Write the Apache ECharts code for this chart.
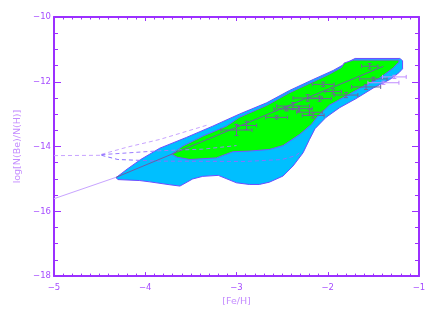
<!DOCTYPE html>
<html><head><meta charset="utf-8">
<script src="https://cdn.jsdelivr.net/npm/echarts@6/dist/echarts.min.js"></script>
<style>html,body{margin:0;padding:0;background:#fff}#c{width:436px;height:312px}</style>
</head><body><div id="c"></div>
<script>
// ---- tick values ----
const xTicks = [-5, -4, -3, -2, -1];
const yTicks = [-18, -16, -14, -12, -10];

// ---- cyan region outline ----
const cyanX = [-4.32,-4.20,-4.05,-3.84,-3.55,-3.26,-2.97,-2.67,-2.42,-2.16,-1.94,-1.75,-1.70,-1.21,-1.18,-1.18,-1.22,-1.32,-1.50,-1.69,-1.87,-2.02,-2.14,-2.20,-2.27,-2.38,-2.49,-2.64,-2.75,-2.86,-3.00,-3.20,-3.37,-3.48,-3.62,-3.73,-3.95,-4.06,-4.30];
const cyanY = [-14.96,-14.70,-14.40,-14.05,-13.72,-13.37,-13.00,-12.65,-12.27,-11.93,-11.65,-11.35,-11.28,-11.28,-11.35,-11.60,-11.72,-11.93,-12.19,-12.52,-12.80,-13.10,-13.45,-13.78,-14.19,-14.60,-14.91,-15.10,-15.17,-15.17,-15.12,-14.89,-14.92,-15.00,-15.22,-15.18,-15.09,-15.05,-15.02];

// ---- green region outline ----
const greenX = [-3.71,-3.59,-3.37,-3.11,-2.97,-2.67,-2.42,-2.16,-2.00,-1.85,-1.82,-1.72,-1.22,-1.22,-1.25,-1.28,-1.43,-1.61,-1.80,-1.98,-2.12,-2.18,-2.31,-2.49,-2.64,-2.86,-3.04,-3.22,-3.51,-3.65];
const greenY = [-14.24,-13.99,-13.68,-13.37,-13.10,-12.73,-12.34,-12.00,-11.79,-11.56,-11.42,-11.33,-11.33,-11.40,-11.47,-11.57,-11.88,-12.14,-12.44,-12.72,-13.10,-13.32,-13.63,-13.97,-14.09,-14.14,-14.16,-14.35,-14.40,-14.33];

// ---- solid model line ----
const solidOutX = [-5.00, -4.32];
const solidOutY = [-15.61, -14.95];
const solidInX = [-4.32, -1.39];
const solidInY = [-14.95, -11.52];

// ---- dashed model lines ----
const dashAX = [-5.00, -4.48];
const dashAY = [-14.28, -14.27];
const dashBX = [-4.48, -4.20, -3.84, -3.30];
const dashBY = [-14.24, -14.02, -13.78, -13.32];
const dashCX = [-4.48, -3.84, -3.37, -3.00];
const dashCY = [-14.25, -14.13, -14.08, -13.97];
const dashDX = [-4.48, -4.30, -3.84, -2.90, -2.50, -2.35, -2.31];
const dashDY = [-14.27, -14.40, -14.45, -14.46, -14.40, -14.28, -14.19];

// ---- observations with error bars ----
const obsX  = [-3.00,-2.89,-2.56,-2.45,-2.38,-2.32,-2.16,-2.20,-2.22,-2.09,-2.05,-1.80,-1.58,-1.50,-1.54,-1.94];
const obsY  = [-13.49,-13.35,-13.10,-12.84,-12.75,-12.83,-13.04,-12.94,-12.50,-12.52,-12.08,-12.41,-12.16,-11.91,-11.52,-12.30];
const obsXE = [0.17,0.11,0.12,0.14,0.18,0.15,0.12,0.14,0.16,0.13,0.12,0.13,0.16,0.15,0.09,0.09];
const obsYE = [0.17,0.13,0.05,0.06,0.11,0.08,0.08,0.08,0.10,0.08,0.07,0.08,0.08,0.05,0.08,0.08];
const obs2X  = [-1.27,-1.39];
const obs2Y  = [-11.85,-12.03];
const obs2XE = [0.13,0.17];
const obs2YE = [0.05,0.05];

const axisColor = '#9b30ff';
const labelColor = '#a64dff';
const nameColor = '#c48cff';
const lightLine = '#c8a4ff';

function zip(xs, ys) { return xs.map((x, i) => [x, ys[i]]); }

function polySeries(xs, ys, fill, stroke, z) {
  return {
    type: 'custom', coordinateSystem: 'cartesian2d', z: z, silent: true,
    data: zip(xs, ys), encode: {x: 0, y: 1},
    renderItem: function (params, api) {
      if (params.dataIndex !== 0) return null;
      const pts = xs.map((x, i) => api.coord([x, ys[i]]));
      return {type: 'polygon', shape: {points: pts}, style: {fill: fill, stroke: stroke, lineWidth: 1}};
    }
  };
}

function lineSeries(xs, ys, color, dashed, z, width) {
  return {
    type: 'line', data: zip(xs, ys), symbol: 'none', z: z, silent: true,
    lineStyle: {color: color, width: width || 1, type: dashed ? [4, 3] : 'solid'}
  };
}

function errSeries(xs, ys, xe, ye, color, z) {
  return {
    type: 'custom', coordinateSystem: 'cartesian2d', z: z, silent: true,
    data: xs.map((x, i) => [x, ys[i], xe[i], ye[i]]), encode: {x: 0, y: 1},
    renderItem: function (params, api) {
      const x = api.value(0), y = api.value(1), dx = api.value(2), dy = api.value(3);
      const l = api.coord([x - dx, y]), r = api.coord([x + dx, y]);
      const t = api.coord([x, y + dy]), b = api.coord([x, y - dy]);
      const c = 2;
      const st = {stroke: color, lineWidth: 1};
      const ln = (x1, y1, x2, y2) => ({type: 'line', shape: {x1, y1, x2, y2}, style: st});
      return {type: 'group', children: [
        ln(l[0], l[1], r[0], r[1]),
        ln(l[0], l[1] - c, l[0], l[1] + c),
        ln(r[0], r[1] - c, r[0], r[1] + c),
        ln(t[0], t[1], b[0], b[1]),
        ln(t[0] - c, t[1], t[0] + c, t[1]),
        ln(b[0] - c, b[1], b[0] + c, b[1])
      ]};
    }
  };
}

const fmt = v => (v < 0 ? '\u2212' + Math.abs(v) : String(v));
const font = 'DejaVu Sans';

function xAx(pos, show) {
  return {
    type: 'value', position: pos, min: xTicks[0], max: xTicks[xTicks.length - 1], interval: 1,
    axisLine: {show: true, onZero: false, lineStyle: {color: axisColor, width: 2}},
    axisTick: {show: true, inside: true, length: 4, lineStyle: {color: axisColor, width: 1}},
    minorTick: {show: true, splitNumber: 10, length: 2.5, lineStyle: {color: axisColor, width: 1}},
    splitLine: {show: false},
    axisLabel: {show: show, color: labelColor, fontSize: 8.5, fontFamily: font, margin: 7, formatter: fmt},
    name: show ? '[Fe/H]' : '', nameLocation: 'middle', nameGap: 18,
    nameTextStyle: {color: nameColor, fontSize: 9.5, fontFamily: font}
  };
}
function yAx(pos, show) {
  return {
    type: 'value', position: pos, min: yTicks[0], max: yTicks[yTicks.length - 1], interval: 2,
    axisLine: {show: true, onZero: false, lineStyle: {color: axisColor, width: 2}},
    axisTick: {show: true, inside: true, length: 7, lineStyle: {color: axisColor, width: 1}},
    minorTick: {show: true, splitNumber: 4, length: 4, lineStyle: {color: axisColor, width: 1}},
    splitLine: {show: false},
    axisLabel: {show: show, color: labelColor, fontSize: 8.5, fontFamily: font, margin: 3, formatter: fmt},
    name: show ? 'log[N(Be)/N(H)]' : '', nameLocation: 'middle', nameGap: 24, nameRotate: 90,
    nameTextStyle: {color: nameColor, fontSize: 9.5, fontFamily: font}
  };
}

const chart = echarts.init(document.getElementById('c'), null, {renderer: 'canvas'});
chart.setOption({
  animation: false,
  backgroundColor: '#ffffff',
  grid: {left: 54, top: 17, width: 365, height: 260},
  xAxis: [xAx('bottom', true), xAx('top', false)],
  yAxis: [yAx('left', true), yAx('right', false)],
  series: [
    lineSeries(dashAX, dashAY, lightLine, true, 1),
    lineSeries(dashBX, dashBY, lightLine, true, 1),
    polySeries(cyanX, cyanY, '#00bfff', '#6a4cff', 2),
    polySeries(greenX, greenY, '#00ff00', '#7a50ff', 3),
    lineSeries(dashCX, dashCY, '#9a7cff', true, 4),
    lineSeries(dashDX, dashDY, '#8a70ff', true, 4),
    lineSeries(solidOutX, solidOutY, lightLine, false, 4),
    lineSeries(solidInX, solidInY, '#6e5aa8', false, 4),
    errSeries(obsX, obsY, obsXE, obsYE, '#6f6498', 5),
    errSeries(obs2X, obs2Y, obs2XE, obs2YE, '#c08cff', 5)
  ]
});
</script></body></html>
